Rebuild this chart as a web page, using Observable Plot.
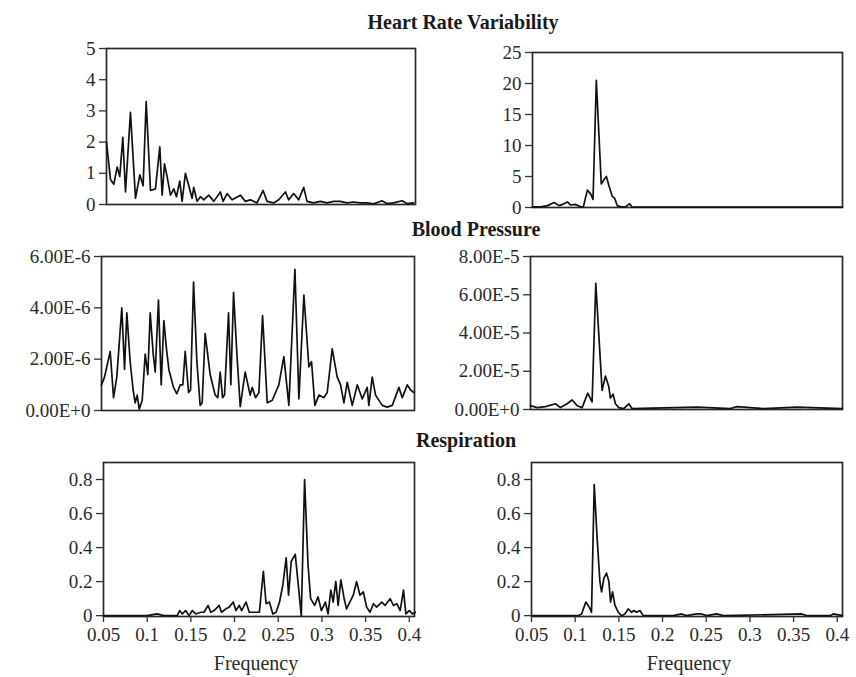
<!DOCTYPE html>
<html>
<head>
<meta charset="utf-8">
<script src="https://cdn.jsdelivr.net/npm/d3@7"></script>
<script src="https://cdn.jsdelivr.net/npm/@observablehq/plot@0.6"></script>
<style>
  html, body { margin: 0; padding: 0; background: #fff; }
  #chart { position: relative; width: 856px; height: 677px; overflow: hidden; background: #fff; font-family: "Liberation Serif", "DejaVu Serif", serif; color: #2a2a2a; }
  .panel { position: absolute; }
  .title { position: absolute; width: 400px; text-align: center; font-weight: bold; font-size: 20px; color: #1a1a1a; white-space: nowrap; }
  .xlabel { position: absolute; width: 200px; text-align: center; font-size: 20px; color: #2a2a2a; }
</style>
</head>
<body>
<div id="chart"></div>
<script>
// ---------- Data ----------
// Heart rate variability, left spectrum (power vs frequency)
const hrvLeftFreq = [0.0500,0.0546,0.0584,0.0623,0.0653,0.0688,0.0719,0.0776,0.0834,0.0884,0.0922,0.0957,0.1007,0.1064,0.1114,0.1141,0.1168,0.1198,0.1237,0.1275,0.1306,0.1344,0.1371,0.1409,0.1448,0.1486,0.1505,0.1544,0.1582,0.1620,0.1678,0.1736,0.1812,0.1843,0.1889,0.1947,0.2043,0.2100,0.2158,0.2234,0.2304,0.2350,0.2426,0.2484,0.2561,0.2599,0.2657,0.2714,0.2772,0.2810,0.2887,0.2964,0.3040,0.3117,0.3194,0.3271,0.3347,0.3424,0.3501,0.3578,0.3673,0.3731,0.3808,0.3904,0.3961,0.4038];
const hrvLeftPower = [2.0,0.8,0.65,1.2,0.9,2.15,0.4,2.95,0.2,0.95,0.6,3.3,0.45,0.5,1.85,0.3,1.3,0.9,0.3,0.5,0.25,0.75,0.1,1.0,0.6,0.2,0.55,0.1,0.25,0.15,0.3,0.1,0.4,0.1,0.35,0.15,0.3,0.1,0.15,0.05,0.45,0.1,0.05,0.15,0.4,0.15,0.35,0.15,0.55,0.1,0.05,0.1,0.05,0.1,0.1,0.05,0.08,0.05,0.05,0.02,0.12,0.03,0.05,0.12,0.03,0.05];

// Heart rate variability, right spectrum
const hrvRightFreq = [0.0500,0.0595,0.0672,0.0748,0.0805,0.0844,0.0901,0.0939,0.0996,0.1054,0.1084,0.1130,0.1168,0.1195,0.1233,0.1290,0.1321,0.1348,0.1378,0.1416,0.1443,0.1474,0.1512,0.1569,0.1615,0.1645,0.1800,0.2200,0.2600,0.3000,0.3400,0.3800,0.4060];
const hrvRightPower = [0.1,0.1,0.3,0.8,0.3,0.5,0.9,0.4,0.5,0.1,0.1,2.8,2.2,1.3,20.5,3.8,4.5,5.0,3.5,1.8,1.5,0.3,0.1,0.1,0.6,0.05,0.05,0.05,0.05,0.05,0.05,0.05,0.05];

// Blood pressure, left spectrum
const bpLeftFreq = [0.0500,0.0534,0.0599,0.0637,0.0674,0.0731,0.0762,0.0788,0.0826,0.0860,0.0883,0.0906,0.0929,0.0963,0.0997,0.1027,0.1054,0.1088,0.1111,0.1148,0.1179,0.1209,0.1239,0.1266,0.1319,0.1357,0.1395,0.1425,0.1452,0.1490,0.1513,0.1547,0.1585,0.1622,0.1645,0.1679,0.1736,0.1793,0.1823,0.1850,0.1877,0.1899,0.1945,0.1971,0.2002,0.2040,0.2078,0.2134,0.2191,0.2214,0.2252,0.2290,0.2332,0.2385,0.2442,0.2517,0.2574,0.2631,0.2700,0.2745,0.2802,0.2859,0.2889,0.2927,0.2973,0.3029,0.3067,0.3124,0.3181,0.3219,0.3257,0.3295,0.3352,0.3409,0.3466,0.3522,0.3541,0.3579,0.3617,0.3693,0.3750,0.3807,0.3883,0.3921,0.3978,0.4015,0.4053];
const bpLeftPower = [1.0e-6,1.3e-6,2.3e-6,0.5e-6,1.3e-6,4.0e-6,1.6e-6,3.8e-6,1.9e-6,0.8e-6,0.3e-6,0.6e-6,0.05e-6,0.4e-6,2.2e-6,1.4e-6,3.8e-6,2.2e-6,1.5e-6,4.3e-6,1.0e-6,3.5e-6,2.4e-6,1.6e-6,0.9e-6,0.65e-6,1.0e-6,1.0e-6,2.3e-6,0.7e-6,0.8e-6,5.0e-6,1.9e-6,0.2e-6,0.3e-6,3.0e-6,1.4e-6,0.6e-6,0.5e-6,1.5e-6,0.5e-6,0.6e-6,3.8e-6,1.0e-6,4.6e-6,2.2e-6,0.15e-6,1.5e-6,0.6e-6,0.9e-6,0.5e-6,0.7e-6,3.7e-6,0.3e-6,0.4e-6,1.0e-6,2.1e-6,0.2e-6,5.5e-6,0.45e-6,4.5e-6,1.7e-6,1.9e-6,0.2e-6,0.6e-6,0.5e-6,0.7e-6,2.4e-6,1.3e-6,1.0e-6,0.3e-6,1.1e-6,0.2e-6,1.0e-6,0.45e-6,0.9e-6,0.2e-6,1.3e-6,0.6e-6,0.2e-6,0.13e-6,0.2e-6,0.9e-6,0.5e-6,1.0e-6,0.8e-6,0.7e-6];

// Blood pressure, right spectrum
const bpRightFreq = [0.0500,0.0576,0.0671,0.0785,0.0842,0.0918,0.0975,0.1032,0.1089,0.1153,0.1203,0.1245,0.1317,0.1355,0.1393,0.1412,0.1442,0.1469,0.1507,0.1564,0.1621,0.1659,0.2020,0.2400,0.2780,0.2856,0.3160,0.3540,0.4060];
const bpRightPower = [0.2e-5,0.1e-5,0.15e-5,0.3e-5,0.1e-5,0.3e-5,0.5e-5,0.2e-5,0.1e-5,0.85e-5,0.4e-5,6.6e-5,1.0e-5,1.75e-5,1.2e-5,0.6e-5,0.8e-5,0.3e-5,0.1e-5,0.05e-5,0.3e-5,0.05e-5,0.08e-5,0.12e-5,0.05e-5,0.15e-5,0.05e-5,0.12e-5,0.05e-5];

// Respiration, left spectrum
const respLeftFreq = [0.0500,0.0845,0.0999,0.1114,0.1191,0.1344,0.1371,0.1402,0.1440,0.1479,0.1517,0.1555,0.1613,0.1651,0.1697,0.1728,0.1766,0.1824,0.1851,0.1901,0.1939,0.1985,0.2016,0.2054,0.2081,0.2131,0.2169,0.2227,0.2284,0.2330,0.2361,0.2399,0.2438,0.2476,0.2515,0.2553,0.2591,0.2618,0.2649,0.2695,0.2726,0.2764,0.2802,0.2841,0.2871,0.2917,0.2956,0.2994,0.3040,0.3071,0.3102,0.3129,0.3159,0.3186,0.3217,0.3255,0.3282,0.3320,0.3359,0.3397,0.3436,0.3474,0.3512,0.3551,0.3589,0.3627,0.3685,0.3723,0.3781,0.3819,0.3858,0.3896,0.3934,0.3961,0.4000,0.4038,0.4069];
const respLeftPower = [0.0,0.0,0.0,0.01,0.0,0.0,0.03,0.01,0.03,0.0,0.03,0.01,0.02,0.02,0.06,0.02,0.03,0.06,0.02,0.04,0.05,0.08,0.03,0.06,0.03,0.08,0.02,0.02,0.02,0.26,0.07,0.08,0.01,0.02,0.08,0.18,0.34,0.12,0.32,0.36,0.2,0.0,0.8,0.3,0.1,0.06,0.11,0.03,0.08,0.01,0.15,0.08,0.2,0.06,0.21,0.1,0.04,0.08,0.12,0.2,0.12,0.14,0.05,0.02,0.07,0.05,0.08,0.06,0.1,0.06,0.07,0.03,0.15,0.01,0.03,0.01,0.02];

// Respiration, right spectrum
const respRightFreq = [0.0500,0.1035,0.1073,0.1122,0.1161,0.1187,0.1218,0.1252,0.1283,0.1302,0.1329,0.1359,0.1386,0.1405,0.1428,0.1455,0.1493,0.1531,0.1569,0.1607,0.1645,0.1672,0.1703,0.1741,0.1779,0.2123,0.2218,0.2275,0.2390,0.2447,0.2505,0.2619,0.2695,0.3593,0.3650,0.3917,0.3956,0.4059];
const respRightPower = [0.0,0.0,0.01,0.08,0.05,0.02,0.77,0.45,0.2,0.14,0.22,0.25,0.2,0.08,0.14,0.06,0.02,0.0,0.01,0.04,0.02,0.03,0.02,0.03,0.0,0.0,0.01,0.0,0.01,0.01,0.0,0.01,0.0,0.01,0.0,0.0,0.01,0.0];

// Titles and tick labels
const sectionTitles = ["Heart Rate Variability", "Blood Pressure", "Respiration"];
const xTicks = [0.05, 0.1, 0.15, 0.2, 0.25, 0.3, 0.35, 0.4];
const xLabel = "Frequency";
const hrvLeftTicks = [0, 1, 2, 3, 4, 5];
const hrvRightTicks = [0, 5, 10, 15, 20, 25];
const bpLeftTicks = [0, 2e-6, 4e-6, 6e-6];
const bpRightTicks = [0, 2e-5, 4e-5, 6e-5, 8e-5];
const respTicks = [0, 0.2, 0.4, 0.6, 0.8];

// ---------- Drawing ----------
const chart = document.getElementById("chart");
const xDomain = [0.05, 0.406];
const fmtPlain = d => String(+d.toFixed(2));
const fmtExp = d => d.toExponential(2).toUpperCase();

function panel(freq, power, o) {
  const [x0, x1, y0, y1] = o.frame;
  const left = o.col === 0 ? 0 : 430;
  const mt = 12, mr = 12, mb = o.bottom ? 62 : 12;
  const ml = x0 - left;
  const width = (x1 - left) + mr;
  const height = (y1 - y0) + mt + mb;
  const data = freq.map((f, i) => ({f, p: power[i]}));
  const marks = [
    Plot.frame({stroke: "#2a2a2a", strokeWidth: 1.7}),
    Plot.axisY({ticks: o.yTicks, tickFormat: o.fmt, tickSize: 7, tickPadding: 4, label: null, stroke: "#333", strokeWidth: 1.3}),
    Plot.line(data, {x: "f", y: "p", stroke: "#111", strokeWidth: 1.7, strokeLinejoin: "round"})
  ];
  if (o.bottom) {
    marks.push(Plot.axisX({ticks: xTicks, tickFormat: fmtPlain, tickSize: 6, tickPadding: 5, label: null, stroke: "#333", strokeWidth: 1.3}));
  }
  const svg = Plot.plot({
    width, height,
    marginLeft: ml, marginRight: mr, marginTop: mt, marginBottom: mb,
    x: {domain: xDomain, axis: o.bottom ? undefined : null},
    y: {domain: o.yDomain},
    style: {fontFamily: '"Liberation Serif", "DejaVu Serif", serif', fontSize: "19px", color: "#2a2a2a", background: "transparent", overflow: "visible"},
    marks
  });
  const wrap = document.createElement("div");
  wrap.className = "panel";
  wrap.style.left = left + "px";
  wrap.style.top = (y0 - mt) + "px";
  wrap.appendChild(svg);
  chart.appendChild(wrap);
  if (o.bottom) {
    const lab = document.createElement("div");
    lab.className = "xlabel";
    lab.textContent = xLabel;
    lab.style.left = (o.labelCenter - 100) + "px";
    lab.style.top = (y1 + 36) + "px";
    chart.appendChild(lab);
  }
}

function title(text, cx, top) {
  const t = document.createElement("div");
  t.className = "title";
  t.textContent = text;
  t.style.left = (cx - 200) + "px";
  t.style.top = top + "px";
  chart.appendChild(t);
}

title(sectionTitles[0], 463, 11);
title(sectionTitles[1], 476, 218);
title(sectionTitles[2], 466, 429);

panel(hrvLeftFreq, hrvLeftPower, {col: 0, frame: [106, 415, 48, 204], yDomain: [0, 5], yTicks: hrvLeftTicks, fmt: fmtPlain});
panel(hrvRightFreq, hrvRightPower, {col: 1, frame: [532, 842, 52, 207], yDomain: [0, 25], yTicks: hrvRightTicks, fmt: fmtPlain});
panel(bpLeftFreq, bpLeftPower, {col: 0, frame: [101, 414, 256, 410], yDomain: [0, 6e-6], yTicks: bpLeftTicks, fmt: fmtExp});
panel(bpRightFreq, bpRightPower, {col: 1, frame: [530, 842, 256, 409], yDomain: [0, 8e-5], yTicks: bpRightTicks, fmt: fmtExp});
panel(respLeftFreq, respLeftPower, {col: 0, frame: [103, 414, 462, 616], yDomain: [-0.005, 0.9], yTicks: respTicks, fmt: fmtPlain, bottom: true, labelCenter: 256});
panel(respRightFreq, respRightPower, {col: 1, frame: [531, 842, 462, 616], yDomain: [-0.005, 0.9], yTicks: respTicks, fmt: fmtPlain, bottom: true, labelCenter: 689});
</script>
</body>
</html>
